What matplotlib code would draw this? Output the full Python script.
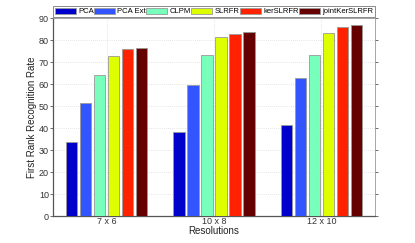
import matplotlib
matplotlib.use("Agg")
import matplotlib.pyplot as plt
import numpy as np

plt.rcParams['font.family'] = ['Liberation Sans', 'DejaVu Sans']

categories = ["7 x 6", "10 x 8", "12 x 10"]
methods = ["PCA", "PCA Ext", "CLPM", "SLRFR", "kerSLRFR", "jointKerSLRFR"]
pca = [33.6, 38.5, 41.5]
pca_ext = [51.4, 59.6, 63.0]
clpm = [64.3, 73.2, 73.2]
slrfr = [73.0, 81.4, 83.3]
kerslrfr = [76.0, 83.0, 86.3]
jointkerslrfr = [76.5, 83.7, 87.2]
series = [pca, pca_ext, clpm, slrfr, kerslrfr, jointkerslrfr]
colors = ["#0000CC", "#3355FF", "#77FFBB", "#DDFF00", "#FF2200", "#660000"]

fig = plt.figure(figsize=(4.15, 2.43), dpi=100)
ax = fig.add_axes([53/415, 1-216/243, (375-53)/415, (216-18.5)/243])

x = np.arange(1, len(categories) + 1)
step = 0.13
width = 0.105
for i, (vals, c, name) in enumerate(zip(series, colors, methods)):
    ax.bar(x + (i - 2.5) * step, vals, width, color=c, edgecolor="#999999",
           linewidth=0.6, label=name, zorder=3)

ax.set_xlim(0.5, 3.5)
ax.set_ylim(0, 90)
ax.set_yticks(np.arange(0, 91, 10))
ax.set_xticks(x)
ax.set_xticklabels(categories)
ax.tick_params(labelsize=6.5, length=2, width=0.5, pad=1.0, colors="#333333")
ax.tick_params(axis="y", direction="out", right=True)
ax.tick_params(axis="x", direction="in", length=0)
ax.grid(True, linestyle=(0, (1, 2)), color="#cccccc", linewidth=0.5, zorder=0)
ax.set_axisbelow(True)
for s in ["top", "right"]:
    ax.spines[s].set_color("#999999")
    ax.spines[s].set_linewidth(0.6)
for s in ["left", "bottom"]:
    ax.spines[s].set_color("#555555")
    ax.spines[s].set_linewidth(0.9)
ax.set_ylabel("First Rank Recognition Rate", fontsize=7, labelpad=1.5, color="#222222")
ax.set_xlabel("Resolutions", fontsize=7, labelpad=0, color="#222222")

leg = ax.legend(ncol=6, loc="lower center", bbox_to_anchor=(0.5, 1.008),
                fontsize=5.5, handlelength=2.75, handleheight=0.75,
                handletextpad=0.3, columnspacing=0.05, borderpad=0.2,
                borderaxespad=0.0, frameon=True, fancybox=False)
leg.get_frame().set_edgecolor("#555555")
leg.get_frame().set_linewidth(0.6)

fig.savefig("out.png", dpi=100)
